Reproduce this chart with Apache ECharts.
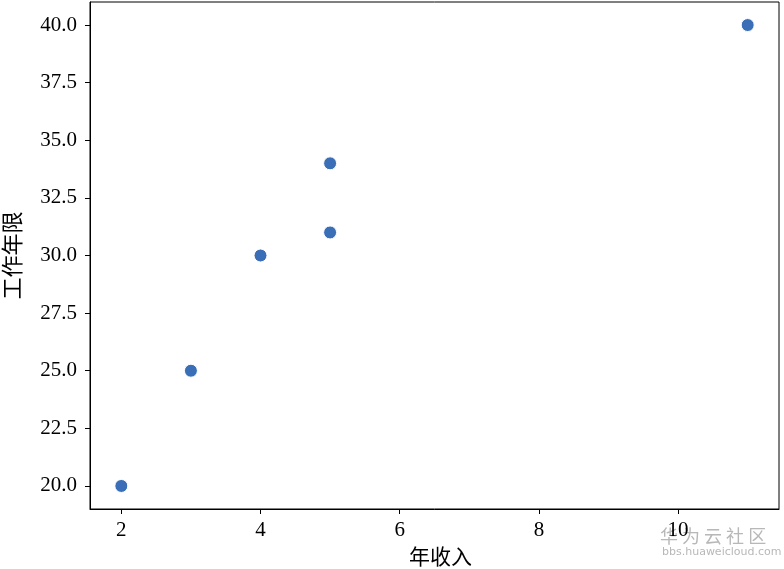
<!DOCTYPE html>
<html><head><meta charset="utf-8">
<script src="https://cdn.jsdelivr.net/npm/echarts@6/dist/echarts.min.js"></script>
<style>html,body{margin:0;padding:0;background:#fff}#c{width:784px;height:569px}</style>
</head><body><div id="c"></div>
<script>
var income = [2, 3, 4, 5, 5, 11];
var years = [20, 25, 30, 31, 34, 40];
var xTicks = [2, 4, 6, 8, 10];
var yTicks = [20, 22.5, 25, 27.5, 30, 32.5, 35, 37.5, 40];
var xName = '年收入';
var yName = '工作年限';

var chart = echarts.init(document.getElementById('c'), null, {renderer: 'canvas'});
var serif = '"Liberation Serif", "DejaVu Serif", serif';
var cjk = '"Noto Sans CJK SC", sans-serif';
chart.setOption({
  animation: false,
  grid: {left: 90, right: 5, top: 2, bottom: 60, show: true, borderColor: '#000', borderWidth: 1, containLabel: false, outerBoundsMode: 'none'},
  xAxis: {
    type: 'value', min: 1.55, max: 11.45,
    name: xName, nameLocation: 'middle', nameGap: 37,
    nameTextStyle: {fontFamily: cjk, fontSize: 21, color: '#000', padding: [0, 0, 0, 12]},
    axisLine: {show: true, lineStyle: {color: '#000', width: 1}},
    axisTick: {show: true, inside: false, length: 5, lineStyle: {color: '#000'}, customValues: xTicks},
    axisLabel: {customValues: xTicks, color: '#000', fontFamily: serif, fontSize: 21, margin: 11},
    splitLine: {show: false}
  },
  yAxis: {
    type: 'value', min: 19, max: 41,
    name: yName, nameLocation: 'middle', nameGap: 67,
    nameTextStyle: {fontFamily: cjk, fontSize: 22, color: '#000'},
    axisLine: {show: true, lineStyle: {color: '#000', width: 1}},
    axisTick: {show: true, inside: false, length: 5, lineStyle: {color: '#000'}, customValues: yTicks},
    axisLabel: {customValues: yTicks, color: '#000', fontFamily: serif, fontSize: 21, margin: 13,
      formatter: function (v) { return v.toFixed(1); }},
    splitLine: {show: false}
  },
  series: [{
    type: 'scatter',
    data: income.map(function (x, i) { return [x, years[i]]; }),
    symbolSize: 13,
    itemStyle: {color: '#3a6fb8', borderColor: '#ffffff', borderWidth: 1, opacity: 1}
  }],
  graphic: [
    {type: 'text', left: 660, top: 527, style: {text: '华 为 云 社 区', fill: '#b8b8b8', font: '18px "Noto Sans CJK SC", sans-serif'}},
    {type: 'text', left: 662, top: 547, style: {text: 'bbs.huaweicloud.com', fill: '#b8b8b8', font: '11px "DejaVu Sans", sans-serif'}}
  ]
});
</script></body></html>
